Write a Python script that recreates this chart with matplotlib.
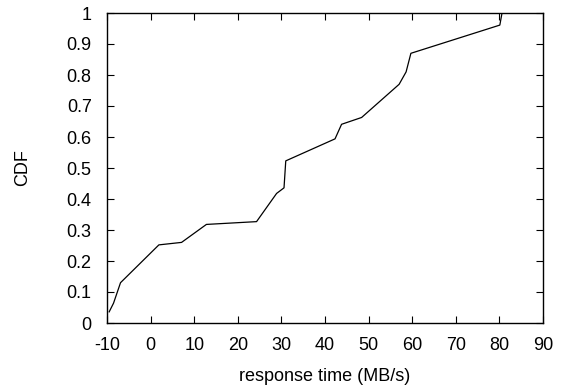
import matplotlib
matplotlib.use("Agg")
import matplotlib.pyplot as plt

x_vals = [-9.5, -8.5, -6.9, 1.9, 7.1, 12.8, 24.3, 28.9, 30.6, 31.0, 42.3, 43.8, 48.4, 57.0, 58.6, 59.7, 80.1, 80.6]
cdf_vals = [0.036, 0.064, 0.13, 0.252, 0.26, 0.318, 0.327, 0.418, 0.436, 0.523, 0.594, 0.641, 0.663, 0.77, 0.81, 0.87, 0.961, 1.0]
x_ticks = [-10, 0, 10, 20, 30, 40, 50, 60, 70, 80, 90]
y_ticks = [0, 0.1, 0.2, 0.3, 0.4, 0.5, 0.6, 0.7, 0.8, 0.9, 1]
y_tick_labels = ["0", "0.1", "0.2", "0.3", "0.4", "0.5", "0.6", "0.7", "0.8", "0.9", "1"]

plt.rcParams['font.family'] = ['Liberation Sans', 'DejaVu Sans']
fig = plt.figure(figsize=(5.63, 3.9), dpi=100)
ax = fig.add_axes([107/563, 1-323/390, (543-107)/563, (323-13)/390])
ax.plot(x_vals, cdf_vals, color='black', linewidth=0.9)
ax.set_xlim(-10, 90)
ax.set_ylim(0, 1)
ax.set_xticks(x_ticks)
ax.set_xticklabels([str(t) for t in x_ticks])
ax.set_yticks(y_ticks)
ax.set_yticklabels(y_tick_labels)
ax.tick_params(direction='in', length=5, width=0.8, top=True, right=True, labelsize=13, colors='black')
ax.tick_params(axis='x', pad=10)
ax.tick_params(axis='y', pad=11)
for s in ax.spines.values():
    s.set_linewidth(1.0)
ax.set_xlabel('response time (MB/s)', fontsize=13, labelpad=10)
ax.set_ylabel('CDF', fontsize=13, labelpad=25.5)
fig.savefig('out.png', dpi=100)
